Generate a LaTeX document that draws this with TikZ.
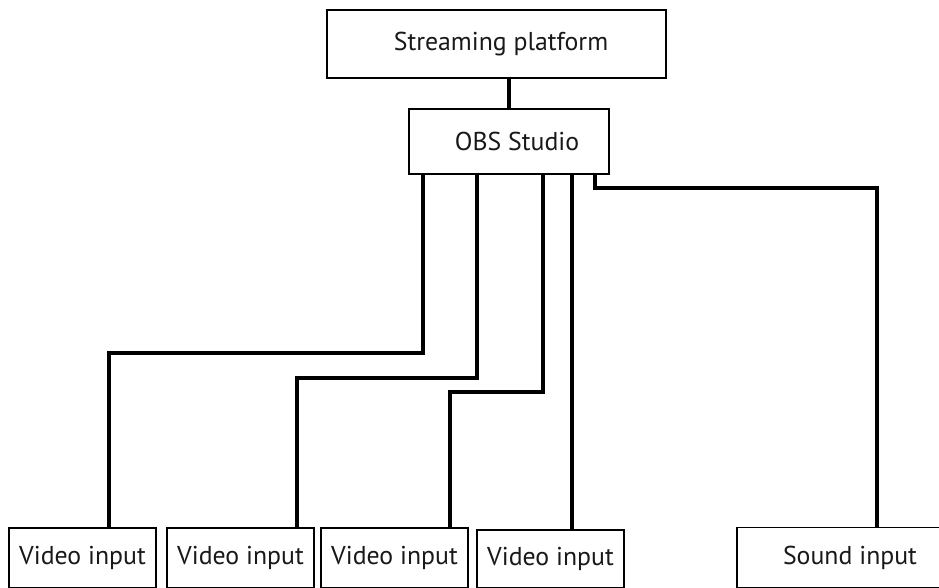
\documentclass[tikz,border=0pt]{standalone}
\usepackage{fontspec}
\setmainfont{PT Sans}
\begin{document}
\begin{tikzpicture}[x=1pt,y=-1pt,
  box/.style={draw=black, line width=1.6pt, fill=white, inner sep=0pt,
    font=\fontsize{25.8}{30}\selectfont, text=black!90},
  conn/.style={draw=black, line width=4pt}]
\useasboundingbox (0,0) rectangle (939,587);
% boxes
\node[box, minimum width=339, minimum height=68] (sp) at (496.5,44) {\hspace*{9pt}Streaming platform};
\node[box, minimum width=200, minimum height=65] (obs) at (509,141.5) {\hspace*{16pt}OBS Studio};
\node[box, minimum width=147, minimum height=60] (v1) at (82.5,558) {Video input};
\node[box, minimum width=147, minimum height=60] (v2) at (240.5,558) {Video input};
\node[box, minimum width=147, minimum height=60] (v3) at (394.5,558) {Video input};
\node[box, minimum width=147, minimum height=58] (v4) at (550.5,559) {Video input};
\node[box, minimum width=226, minimum height=60] (snd) at (850,557.5) {Sound input};
% connector bends
\coordinate (t)  at (509,0);
\coordinate (a1) at (423,353);
\coordinate (b1) at (109,353);
\coordinate (a2) at (477,378);
\coordinate (b2) at (297,378);
\coordinate (a3) at (543,392);
\coordinate (b3) at (450,392);
\coordinate (a4) at (572,0);
\coordinate (a5) at (595,188);
\coordinate (b5) at (877,188);
% connectors
\draw[conn] (sp.south -| t) -- (obs.north -| t);
\draw[conn] (obs.south -| a1) -- (a1) -- (b1) -- (v1.north -| b1);
\draw[conn] (obs.south -| a2) -- (a2) -- (b2) -- (v2.north -| b2);
\draw[conn] (obs.south -| a3) -- (a3) -- (b3) -- (v3.north -| b3);
\draw[conn] (obs.south -| a4) -- (v4.north -| a4);
\draw[conn] (obs.south -| a5) -- (a5) -- (b5) -- (snd.north -| b5);
\end{tikzpicture}
\end{document}
